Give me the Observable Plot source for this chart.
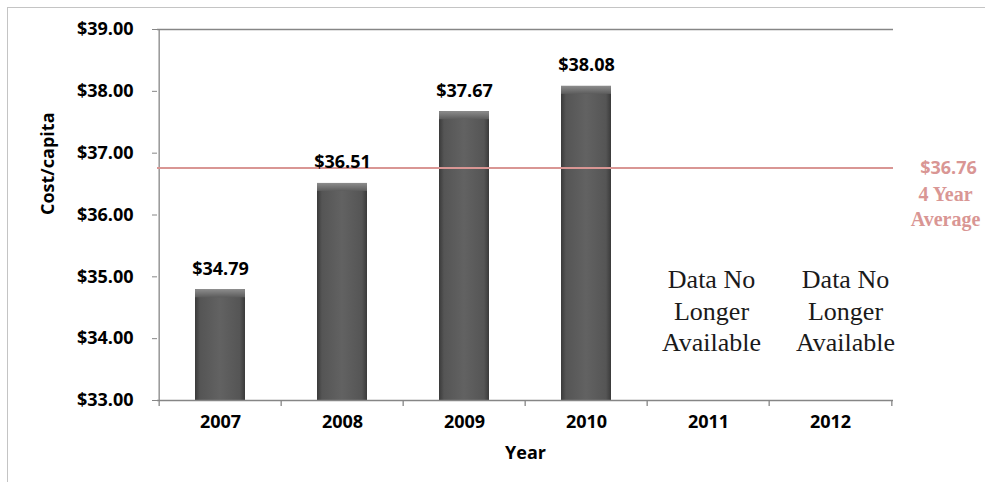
<!DOCTYPE html>
<html>
<head>
<meta charset="utf-8">
<script src="https://cdn.jsdelivr.net/npm/d3@7"></script>
<script src="https://cdn.jsdelivr.net/npm/@observablehq/plot@0.6"></script>
<style>
  html, body { margin: 0; padding: 0; background: #fff; }
  #wrap { position: relative; width: 985px; height: 482px; overflow: hidden; }
  #border { position: absolute; left: 7px; top: 7px; width: 990px; height: 490px;
            border-left: 1.5px solid #c4c4c4; border-top: 1.5px solid #c4c4c4; }
  #chart { position: absolute; left: 0; top: 0; }
</style>
</head>
<body>
<div id="wrap"><div id="border"></div><div id="chart"></div></div>
<script>
const years = ["2007", "2008", "2009", "2010", "2011", "2012"];
const costYears = ["2007", "2008", "2009", "2010"];
const costs = [34.79, 36.51, 37.67, 38.08];
const average = 36.76;
const unavailableYears = ["2011", "2012"];
const unavailableText = "Data No\nLonger\nAvailable";
const yTicks = [33, 34, 35, 36, 37, 38, 39];

const data = costYears.map((year, i) => ({year, cost: costs[i]}));

const W = 985, H = 482;
const mL = 157, mR = 92, mT = 29, mB = 82;
const step = (W - mL - mR) / years.length;
const axisColor = "#868686";
const pink = "#d99694";
const sans = "'Open Sans', sans-serif";
const serif = "'Liberation Serif', 'Times New Roman', serif";
const noteShift = [3, 15];

const plot = Plot.plot({
  width: W, height: H,
  marginLeft: mL, marginRight: mR, marginTop: mT, marginBottom: mB,
  style: {background: "transparent", fontFamily: sans, overflow: "visible"},
  x: {domain: years, paddingInner: 0.59, paddingOuter: 0.295, label: null},
  y: {domain: [33, 39], label: null},
  marks: [
    Plot.ruleY([39], {stroke: axisColor, strokeWidth: 1.3}),
    Plot.barY(data, {x: "year", y1: 33, y2: "cost", fill: "url(#barGrad)"}),
    Plot.barY(data, {x: "year", y1: "cost", y2: "cost", insetBottom: -8, fill: "url(#bevelGrad)"}),
    Plot.ruleY([33], {stroke: axisColor, strokeWidth: 1.3}),
    Plot.ruleX([years[0]], {y1: 33, y2: 39, dx: -step / 2, stroke: axisColor, strokeWidth: 1.3}),
    Plot.ruleX(years, {y1: 33, y2: 33, insetBottom: -6, dx: -step / 2, stroke: axisColor, strokeWidth: 1.3}),
    Plot.ruleX([years[years.length - 1]], {y1: 33, y2: 33, insetBottom: -6, dx: step / 2, stroke: axisColor, strokeWidth: 1.3}),
    Plot.axisY({ticks: yTicks, tickFormat: d => "$" + d.toFixed(2), tickSize: 5, tickPadding: 19,
      stroke: axisColor, fontSize: 18, fontWeight: "bold", fill: "#000", label: null}),
    Plot.axisX({tickSize: 0, tickPadding: 15, fontSize: 18, fontWeight: "bold", fill: "#000", label: null}),
    Plot.ruleY([average], {stroke: pink, strokeWidth: 2}),
    Plot.text([average], {y: d => d, frameAnchor: "right", textAnchor: "middle", dx: 55, text: d => "$" + d.toFixed(2),
      fill: pink, fontSize: 18, fontWeight: "bold", fontFamily: sans}),
    Plot.text([average], {y: d => d, frameAnchor: "right", textAnchor: "middle", dx: 52, dy: 27, text: () => "4 Year",
      fill: pink, fontSize: 20, fontWeight: "bold", fontFamily: serif}),
    Plot.text([average], {y: d => d, frameAnchor: "right", textAnchor: "middle", dx: 52, dy: 52, text: () => "Average",
      fill: pink, fontSize: 20, fontWeight: "bold", fontFamily: serif}),
    Plot.text(data, {x: "year", y: "cost", dy: -21, text: d => "$" + d.cost.toFixed(2),
      fontSize: 18, fontWeight: "bold", fill: "#000"}),
    ...unavailableYears.map((yr, i) =>
      Plot.text([yr], {x: d => d, y: 34.47, dx: noteShift[i], textAnchor: "middle", text: () => unavailableText,
        lineHeight: 1.22, fontSize: 26, fontFamily: serif, fill: "#1a1a1a"})),
    Plot.text(["Cost/capita"], {frameAnchor: "left", dx: -109, rotate: -90, text: d => d,
      fontSize: 18, fontWeight: "bold", fill: "#000"}),
    Plot.text(["Year"], {frameAnchor: "bottom", dy: 58, text: d => d,
      fontSize: 18, fontWeight: "bold", fill: "#000"})
  ]
});

const svg = d3.select(plot);
const defs = svg.insert("defs", ":first-child");
const g1 = defs.append("linearGradient").attr("id", "barGrad").attr("x1", "0").attr("x2", "1").attr("y1", "0").attr("y2", "0");
[["0%", "#3a3a3a"], ["10%", "#555"], ["50%", "#626262"], ["90%", "#555"], ["100%", "#3a3a3a"]]
  .forEach(([o, c]) => g1.append("stop").attr("offset", o).attr("stop-color", c));
const g2 = defs.append("linearGradient").attr("id", "bevelGrad").attr("x1", "0").attr("x2", "0").attr("y1", "0").attr("y2", "1");
[["0%", "#8c8c8c"], ["100%", "#5c5c5c"]]
  .forEach(([o, c]) => g2.append("stop").attr("offset", o).attr("stop-color", c));

document.getElementById("chart").appendChild(plot);
</script>
</body>
</html>
